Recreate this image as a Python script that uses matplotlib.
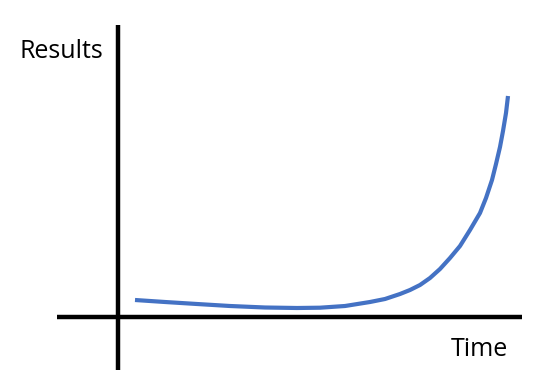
import matplotlib
matplotlib.use("Agg")
import matplotlib.pyplot as plt

# curve: time vs results (origin where the axes cross)
time = [17, 47, 79, 112, 147, 179, 202, 227, 252, 267, 282, 292, 302, 312, 322, 332,
        342, 352, 362, 368, 374, 378, 382, 385, 388, 390]
results = [17, 15, 13, 11, 9.5, 9, 9.3, 11, 15, 18, 23, 27, 32, 39, 48, 59,
           71, 87, 104, 119, 137, 153, 170, 186, 204, 221]

x_label = "Time"
y_label = "Results"

fig = plt.figure(figsize=(5.55, 3.84), dpi=100)
ax = fig.add_axes([0, 0, 1, 1])
ax.set_xlim(-118, 437)
ax.set_ylim(-67, 317)
ax.axis("off")

# the two axis lines
ax.plot([-61, 404], [0, 0], color="black", lw=3.2, solid_capstyle="butt")
ax.plot([0, 0], [-53, 292], color="black", lw=3.2, solid_capstyle="butt")

ax.plot(time, results, color="#4472C4", lw=3.0, solid_capstyle="butt", solid_joinstyle="round")

ax.text(-15, 259, y_label, ha="right", va="baseline", fontsize=18, family="Open Sans")
ax.text(390, -39, x_label, ha="right", va="baseline", fontsize=18, family="Open Sans")

fig.savefig("out.png", dpi=100)
